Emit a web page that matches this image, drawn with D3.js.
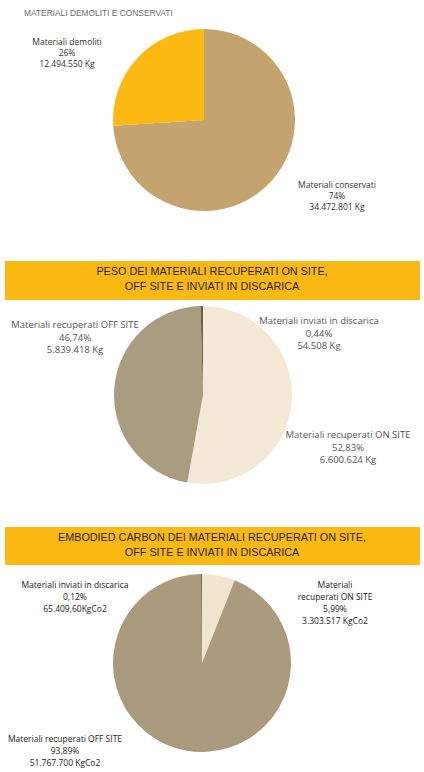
<!DOCTYPE html>
<html lang="it">
<head>
<meta charset="utf-8">
<script src="https://d3js.org/d3.v7.min.js"></script>
<style>
  body { margin: 0; background: #fff; }
  .lbl { font-family: "Open Sans", sans-serif; text-anchor: middle; }
  .band-title { font-family: "Liberation Sans", Arial, sans-serif; font-size: 10.8px; text-anchor: middle; fill: #2a2418; }
</style>
</head>
<body>
<svg id="chart" width="424" height="772"></svg>
<script>
  // Chart 1 - materiali demoliti e conservati
  const pie1Names = ["Materiali conservati", "Materiali demoliti"];
  const pie1Values = [74, 26];
  const pie1Weights = ["34.472.801 Kg", "12.494.550 Kg"];

  // Chart 2 - peso dei materiali recuperati
  const pie2Names = ["Materiali recuperati ON SITE", "Materiali recuperati OFF SITE", "Materiali inviati in discarica"];
  const pie2Values = [52.83, 46.74, 0.44];
  const pie2Weights = ["6.600.624 Kg", "5.839.418 Kg", "54.508 Kg"];

  // Chart 3 - embodied carbon
  const pie3Names = ["Materiali recuperati ON SITE", "Materiali recuperati OFF SITE", "Materiali inviati in discarica"];
  const pie3Values = [5.99, 93.89, 0.12];
  const pie3Weights = ["3.303.517 KgCo2", "51.767.700 KgCo2", "65.409,60KgCo2"];

  const titles = [
    "MATERIALI DEMOLITI E CONSERVATI",
    ["PESO DEI MATERIALI RECUPERATI ON SITE,", "OFF SITE E INVIATI IN DISCARICA"],
    ["EMBODIED CARBON DEI MATERIALI RECUPERATI ON SITE,", "OFF SITE E INVIATI IN DISCARICA"]
  ];

  const fmt = v => String(v).replace(".", ",") + "%";

  const svg = d3.select("#chart");
  const pie = d3.pie().sort(null).value(d => d.value);

  function drawPie(cfg) {
    const data = cfg.names.map((n, i) => ({ name: n, value: cfg.values[i], weight: cfg.weights[i] }));
    const arc = d3.arc().innerRadius(0).outerRadius(cfg.r);
    const g = svg.append("g").attr("transform", `translate(${cfg.cx},${cfg.cy})`);
    g.selectAll("path")
      .data(pie(data))
      .join("path")
      .attr("d", arc)
      .attr("fill", (d, i) => cfg.colors[i]);

    // labels
    data.forEach((d, i) => {
      const p = cfg.labels[i];
      const lines = (p.split ? [d.name.split(" ")[0], d.name.split(" ").slice(1).join(" ")] : [d.name])
        .concat([p.pct || fmt(d.value), d.weight]);
      const t = svg.append("text").attr("class", "lbl")
        .attr("fill", cfg.textColor)
        .attr("font-size", cfg.fontSize);
      lines.forEach((line, j) => {
        t.append("tspan").attr("x", p.x).attr("y", p.y + j * cfg.lineH).text(line);
      });
    });
  }

  function drawBand(y, h, lines) {
    svg.append("rect")
      .attr("x", 5).attr("y", y).attr("width", 415).attr("height", h)
      .attr("fill", "#fdb913");
    lines.forEach((l, j) => {
      svg.append("text").attr("class", "band-title")
        .attr("x", 212).attr("y", y + 14 + j * 15).text(l);
    });
  }

  // title 1
  svg.append("text")
    .attr("x", 24).attr("y", 16)
    .attr("font-family", "Liberation Sans, Arial, sans-serif")
    .attr("font-size", 8.4)
    .attr("fill", "#6b6b6b")
    .text(titles[0]);

  drawPie({
    names: pie1Names, values: pie1Values, weights: pie1Weights,
    cx: 204, cy: 120, r: 91,
    colors: ["#c4a36f", "#fdb813"],
    textColor: "#333",
    fontSize: 8.5,
    lineH: 11,
    labels: [{ x: 337, y: 188, pct: "74%" }, { x: 67, y: 45, pct: "26%" }]
  });

  drawBand(261, 39, titles[1]);

  drawPie({
    names: pie2Names, values: pie2Values, weights: pie2Weights,
    cx: 203, cy: 395, r: 89,
    colors: ["#f4e8d6", "#aa9c81", "#6a5e4c"],
    textColor: "#555",
    fontSize: 9.5,
    lineH: 12.5,
    labels: [{ x: 348, y: 438 }, { x: 75, y: 328 }, { x: 319, y: 324 }]
  });

  drawBand(527, 38, titles[2]);

  drawPie({
    names: pie3Names, values: pie3Values, weights: pie3Weights,
    cx: 202, cy: 663, r: 89,
    colors: ["#f1e5cf", "#aa9b7f", "#2e2820"],
    textColor: "#222",
    fontSize: 8.5,
    lineH: 12,
    labels: [{ x: 335, y: 588, split: true }, { x: 65, y: 742 }, { x: 75, y: 588 }]
  });
</script>
</body>
</html>
